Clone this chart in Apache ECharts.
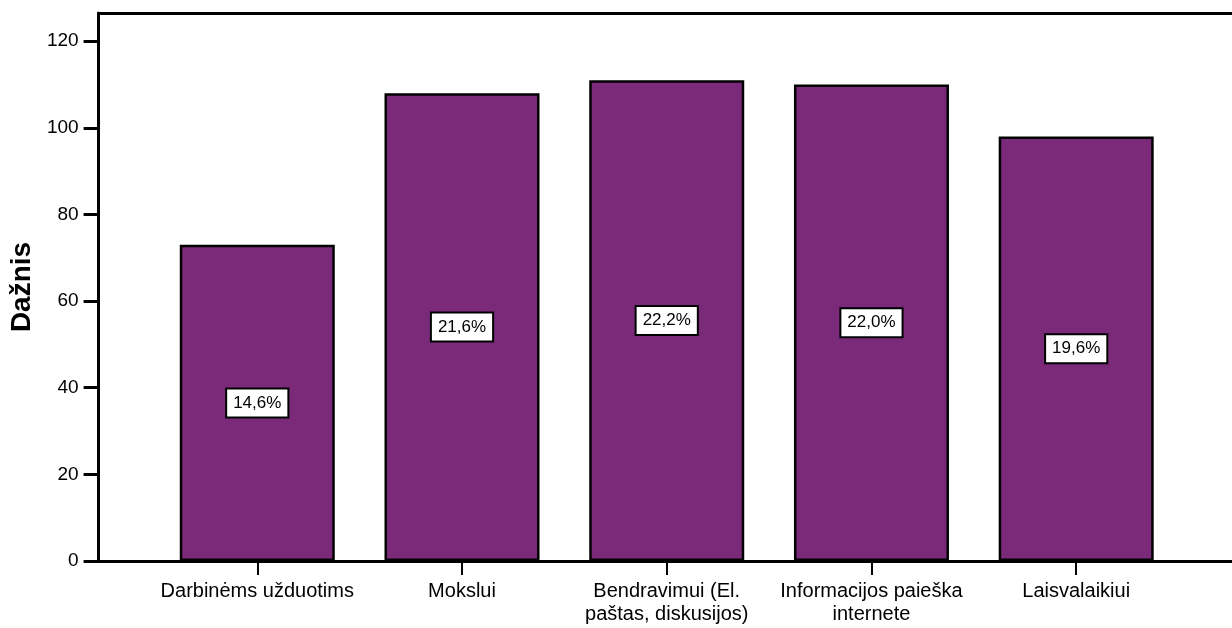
<!DOCTYPE html>
<html>
<head>
<meta charset="utf-8">
<script src="https://cdn.jsdelivr.net/npm/echarts@6/dist/echarts.min.js"></script>
<style>
  html, body { margin: 0; padding: 0; background: #fff; }
  #chart { width: 1232px; height: 628px; }
</style>
</head>
<body>
<div id="chart"></div>
<script>
// Internet use purposes: frequency per purpose, with share of all answers
const categories = [
  'Darbinėms užduotims',
  'Mokslui',
  'Bendravimui (El.\npaštas, diskusijos)',
  'Informacijos paieška\ninternete',
  'Laisvalaikiui'
];
const frequencies = [73, 108, 111, 110, 98];
const shareLabels = ['14,6%', '21,6%', '22,2%', '22,0%', '19,6%'];
const yTicks = [0, 20, 40, 60, 80, 100, 120];

const FONT = '"Liberation Sans", Arial, sans-serif';
const positions = categories.map((_, i) => i);
const X_MIN = -0.775;
const X_MAX = 4.761;

const chart = echarts.init(document.getElementById('chart'), null, { renderer: 'canvas' });

chart.setOption({
  animation: false,
  backgroundColor: '#ffffff',
  grid: { left: 97, top: 13, right: -5, bottom: 67 },
  xAxis: [{
    type: 'value',
    min: X_MIN,
    max: X_MAX,
    splitLine: { show: false },
    axisLine: { show: true, onZero: false, lineStyle: { color: '#000', width: 3 } },
    axisTick: {
      show: true, customValues: positions, length: 14, inside: false,
      lineStyle: { color: '#000', width: 2 }
    },
    axisLabel: {
      customValues: positions,
      formatter: v => categories[Math.round(v)] || '',
      color: '#000', fontFamily: FONT, fontSize: 20, lineHeight: 23, margin: 19, align: 'center'
    }
  }, {
    // top edge of the plot frame
    type: 'value',
    position: 'top',
    min: X_MIN,
    max: X_MAX,
    splitLine: { show: false },
    axisLine: { show: true, onZero: false, lineStyle: { color: '#000', width: 3 } },
    axisTick: { show: false },
    axisLabel: { show: false }
  }],
  yAxis: {
    type: 'value',
    min: 0,
    max: 126.5,
    name: 'Dažnis',
    nameLocation: 'middle',
    nameGap: 62,
    nameRotate: 90,
    nameTextStyle: { fontFamily: FONT, fontSize: 28, fontWeight: 'bold', color: '#000' },
    splitLine: { show: false },
    axisLine: { show: true, onZero: false, lineStyle: { color: '#000', width: 3 } },
    axisTick: {
      show: true, customValues: yTicks, length: 15,
      lineStyle: { color: '#000', width: 3 }
    },
    axisLabel: {
      customValues: yTicks,
      color: '#000', fontFamily: FONT, fontSize: 19, margin: 20
    }
  },
  series: [{
    type: 'bar',
    data: frequencies.map((v, i) => [i, v]),
    barWidth: 155,
    itemStyle: { color: '#7b2a7a', borderColor: '#000', borderWidth: 2.5 },
    label: {
      show: true,
      position: 'inside',
      formatter: p => shareLabels[p.dataIndex],
      color: '#000',
      fontFamily: FONT,
      fontSize: 17,
      backgroundColor: '#fff',
      borderColor: '#000',
      borderWidth: 2,
      padding: [5, 6, 5, 6]
    }
  }]
});
</script>
</body>
</html>
